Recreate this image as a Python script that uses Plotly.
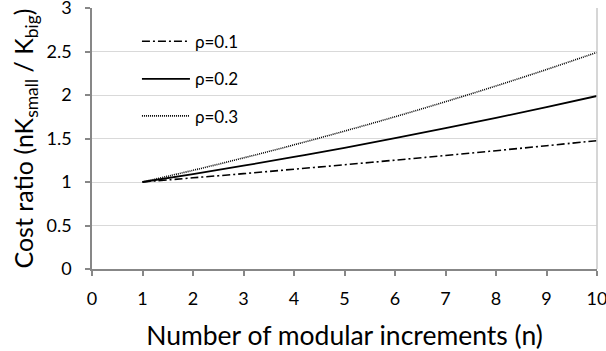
import plotly.graph_objects as go

n_values = [1, 2, 3, 4, 5, 6, 7, 8, 9, 10]
rho_01 = [1.00, 1.048, 1.096, 1.147, 1.198, 1.251, 1.305, 1.360, 1.417, 1.475]
rho_02 = [1.00, 1.091, 1.187, 1.288, 1.393, 1.503, 1.618, 1.737, 1.861, 1.989]
rho_03 = [1.00, 1.134, 1.277, 1.427, 1.585, 1.750, 1.923, 2.104, 2.293, 2.490]
series_names = ["ρ=0.1", "ρ=0.2", "ρ=0.3"]
x_ticks = [0, 1, 2, 3, 4, 5, 6, 7, 8, 9, 10]
y_ticks = [0, 0.5, 1, 1.5, 2, 2.5, 3]
y_tick_labels = ["0", "0.5", "1", "1.5", "2", "2.5", "3"]

FONT = "Lato"
fig = go.Figure()
styles = [dict(dash="8px,3px,2px,3px", width=1.6),
          dict(dash="solid", width=1.8),
          dict(dash="1px,1px", width=1.6)]
legend_ids = ["legend", "legend2", "legend3"]
for name, ys, st, lg in zip(series_names, [rho_01, rho_02, rho_03], styles, legend_ids):
    fig.add_trace(go.Scatter(x=n_values, y=ys, mode="lines", name=name, legend=lg,
                             line=dict(color="black", width=st["width"], dash=st["dash"], shape="spline")))

fig.add_shape(type="line", xref="x domain", yref="y domain", x0=1, x1=1, y0=0, y1=1,
              line=dict(color="#c8c8c8", width=1.5))

leg_common = dict(x=0.089, xanchor="left", yanchor="middle",
                  bgcolor="rgba(0,0,0,0)", font=dict(size=17, family=FONT),
                  itemwidth=48)
legend_rows_y = [0.871, 0.727, 0.585]

fig.update_layout(
    width=606, height=351,
    margin=dict(l=92, r=9, t=8, b=82, autoexpand=False),
    paper_bgcolor="white", plot_bgcolor="white",
    font=dict(family=FONT, color="black"),
    showlegend=True,
    legend=dict(y=legend_rows_y[0], **leg_common),
    legend2=dict(y=legend_rows_y[1], **leg_common),
    legend3=dict(y=legend_rows_y[2], **leg_common),
    xaxis=dict(range=[0, 10], tickvals=x_ticks, showgrid=False, automargin=False,
               showline=True, linecolor="#878787", linewidth=1.5,
               ticks="outside", ticklen=5, tickcolor="#878787", tickwidth=1.5,
               tickfont=dict(size=18, family=FONT), ticklabelstandoff=8,
               ticklabeloverflow="allow",
               title=dict(text="Number of modular increments (n)", font=dict(size=26.5, family=FONT), standoff=18),
               zeroline=False),
    yaxis=dict(range=[0, 3], tickvals=y_ticks, ticktext=y_tick_labels, showgrid=True, automargin=False,
               gridcolor="#d9d9d9", gridwidth=1.2,
               showline=True, linecolor="#878787", linewidth=1.5,
               ticks="outside", ticklen=5, tickcolor="#878787", tickwidth=1.5,
               tickfont=dict(size=18, family=FONT), ticklabelstandoff=10,
               ticklabeloverflow="allow",
               title=dict(text="Cost ratio (nK<sub>small</sub> / K<sub>big</sub>)", font=dict(size=25, family=FONT), standoff=6),
               zeroline=False),
)
fig.write_html("out.html")
